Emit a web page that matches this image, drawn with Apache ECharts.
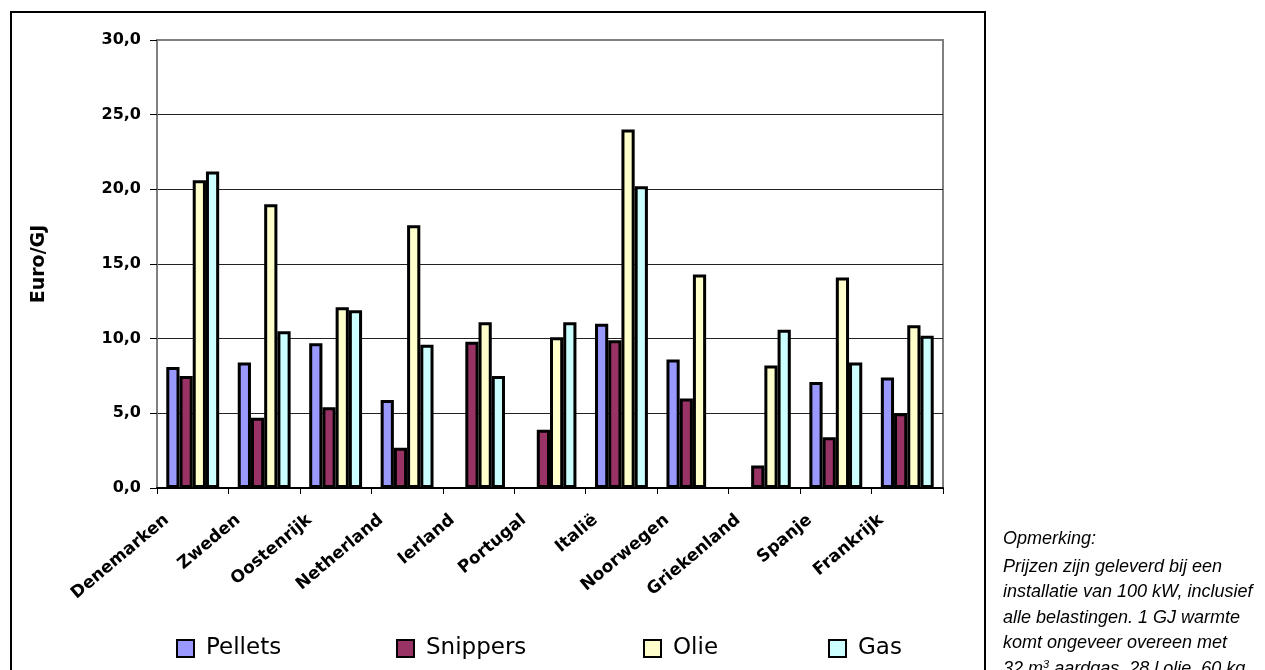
<!DOCTYPE html>
<html>
<head>
<meta charset="utf-8">
<script src="https://cdn.jsdelivr.net/npm/echarts@6/dist/echarts.min.js"></script>
<style>
  html, body { margin: 0; padding: 0; background: #fff; }
  #main { width: 1265px; height: 670px; }
</style>
</head>
<body>
<div id="main"></div>
<script>
// landen
var landen = ['Denemarken', 'Zweden', 'Oostenrijk', 'Netherland', 'Ierland', 'Portugal',
  'Italië', 'Noorwegen', 'Griekenland', 'Spanje', 'Frankrijk'];

// prijzen in Euro/GJ (null = geen waarde)
var pellets   = [8.1, 8.4, 9.7, 5.9, null, null, 11.0, 8.6, null, 7.1, 7.4];
var snippers  = [7.5, 4.7, 5.4, 2.7, 9.8, 3.9, 9.9, 6.0, 1.5, 3.4, 5.0];
var olie      = [20.6, 19.0, 12.1, 17.6, 11.1, 10.1, 24.0, 14.3, 8.2, 14.1, 10.9];
var gas       = [21.2, 10.5, 11.9, 9.6, 7.5, 11.1, 20.2, null, 10.6, 8.4, 10.2];

var reeksNamen = ['Pellets', 'Snippers', 'Olie', 'Gas'];
var reeksKleuren = ['#9999FF', '#993366', '#FFFFCC', '#CCFFFF'];

var opmerking = [
  'Prijzen zijn geleverd bij een',
  'installatie van 100 kW, inclusief',
  'alle belastingen. 1 GJ warmte',
  'komt ongeveer overeen met',
  '32 m{sup|3} aardgas, 28 l olie, 60 kg',
  'pellets of 75 kg houtsnippers.'
];

var myChart = echarts.init(document.getElementById('main'));

var data = [pellets, snippers, olie, gas];
var legendX = [176, 396, 643, 828];

var option = {
  backgroundColor: '#fff',
  animation: false,
  grid: {
    left: 157, right: 322, top: 40, bottom: 182,
    show: true, borderColor: '#808080', borderWidth: 2
  },
  // losse legenda's zodat de posities kloppen
  legend: reeksNamen.map(function (naam, i) {
    return {
      data: [naam],
      left: legendX[i],
      top: 637,
      padding: 0,
      icon: 'rect',
      itemWidth: 17,
      itemHeight: 17,
      itemGap: 0,
      textStyle: { fontFamily: 'DejaVu Sans', fontSize: 23, color: '#000', padding: [0, 0, 0, 7] },
      selectedMode: false
    };
  }),
  xAxis: {
    type: 'category',
    data: landen,
    axisLine: { lineStyle: { color: '#000', width: 2 } },
    axisTick: { show: true, inside: false, length: 6, lineStyle: { color: '#000', width: 1 } },
    axisLabel: {
      rotate: 40,
      interval: 0,
      margin: 8,
      padding: [0, 34, 0, 0],
      fontFamily: 'DejaVu Sans',
      fontWeight: 'bold',
      fontSize: 17,
      color: '#000'
    }
  },
  yAxis: {
    type: 'value',
    min: 0, max: 30, interval: 5,
    name: 'Euro/GJ',
    nameLocation: 'middle',
    nameGap: 108,
    nameTextStyle: { fontFamily: 'DejaVu Sans', fontWeight: 'bold', fontSize: 19, color: '#000' },
    axisLine: { show: true, lineStyle: { color: '#808080', width: 2 } },
    axisTick: { show: true, inside: false, length: 7, lineStyle: { color: '#000' } },
    splitLine: { lineStyle: { color: ['#222', '#222', '#222', '#222', '#222', '#222', '#808080'], width: 1 } },
    axisLabel: {
      margin: 16,
      fontFamily: 'DejaVu Sans',
      fontWeight: 'bold',
      fontSize: 16,
      color: '#000',
      formatter: function (v) { return v.toFixed(1).replace('.', ','); }
    }
  },
  series: reeksNamen.map(function (naam, i) {
    return {
      name: naam,
      type: 'bar',
      data: data[i],
      barGap: '0%',
      barCategoryGap: '26%',
      itemStyle: { color: reeksKleuren[i], borderColor: '#000', borderWidth: 3 }
    };
  }),
  graphic: [
    {
      type: 'rect',
      shape: { x: 11, y: 12, width: 974, height: 700 },
      style: { fill: 'none', stroke: '#000', lineWidth: 2 },
      silent: true
    },
    {
      type: 'text',
      left: 1003, top: 530,
      style: { text: 'Opmerking:', font: 'italic 18px "Liberation Sans", Arial', fill: '#000' }
    }
  ].concat(opmerking.map(function (regel, i) {
    return {
      type: 'text',
      left: 1003, top: 558 + i * 25.3,
      style: {
        text: regel,
        font: 'italic 18px "Liberation Sans", Arial',
        fill: '#000',
        rich: {
          sup: { font: 'italic 11px "Liberation Sans", Arial', fill: '#000', padding: [0, 0, 9, 0] }
        }
      }
    };
  }))
};

myChart.setOption(option);
</script>
</body>
</html>
